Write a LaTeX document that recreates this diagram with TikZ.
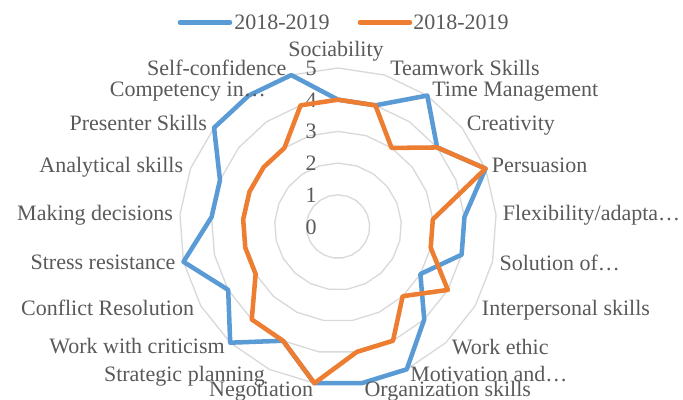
\documentclass[tikz,border=0pt]{standalone}
\usepackage{fontspec}
\setmainfont{Liberation Serif}
\definecolor{sblue}{HTML}{5B9BD5}
\definecolor{sorange}{HTML}{ED7D31}
\definecolor{gridc}{HTML}{D9D9D9}
\definecolor{txt}{HTML}{595959}
\begin{document}
\begin{tikzpicture}[x=0.75pt,y=-0.75pt,
  gridline/.style={draw=gridc,line width=1pt},
  serA/.style={draw=sblue,line width=3.4pt,line join=round},
  serB/.style={draw=sorange,line width=3.4pt,line join=round},
  lab/.style={text=txt,font=\fontsize{16.5}{18}\selectfont,inner sep=0pt},
  ]
\useasboundingbox (0,0) rectangle (683,400);
\def\cx{338}\def\cy{226.5}\def\u{31.7}
% grid rings
\foreach \r in {1,...,5}{
  \draw[gridline] ({\cx},{\cy-\u*\r}) \foreach \k in {1,...,20}{ -- ({\cx+\u*\r*cos(\k*360/21-90)},{\cy+\u*\r*sin(\k*360/21-90)}) } -- cycle;
}
% axis values
\foreach \r in {0,...,5}{
  \node[lab,anchor=base east] (v\r) at (317,{\cy-\u*\r+7.5}) {\r};
}
% series
\foreach \v [count=\k from 0] in {4,4,5,4,5,4,4,3,4,5,5,5,4,5,4,5,4,4,5,5,5}
  \coordinate (a\k) at ({\cx+\u*\v*cos(\k*360/21-90)},{\cy+\u*\v*sin(\k*360/21-90)});
\foreach \v [count=\k from 0] in {4,4,3,4,5,3,3,4,3,4,4,5,4,4,3,3,3,3,3,3,4}
  \coordinate (b\k) at ({\cx+\u*\v*cos(\k*360/21-90)},{\cy+\u*\v*sin(\k*360/21-90)});
\draw[serA] (a0) \foreach \k in {1,...,20}{ -- (a\k) } -- cycle;
\draw[serB] (b0) \foreach \k in {1,...,20}{ -- (b\k) } -- cycle;
% category labels
\node[lab,anchor=base] (c0) at (336,56) {Sociability};
\node[lab,anchor=base west] (c1) at (390,75) {Teamwork Skills};
\node[lab,anchor=base west] (c2) at (432,96) {Time Management};
\node[lab,anchor=base west] (c3) at (466.7,130.7) {Creativity};
\node[lab,anchor=base west] (c4) at (491.7,172.7) {Persuasion};
\node[lab,anchor=base west] (c5) at (502.7,220.7) {Flexibility/adapta…};
\node[lab,anchor=base west] (c6) at (499.3,270) {Solution of…};
\node[lab,anchor=base west] (c7) at (481.7,315.7) {Interpersonal skills};
\node[lab,anchor=base west] (c8) at (451.7,354) {Work ethic};
\node[lab,anchor=base west] (c9) at (410,381) {Motivation and…};
\node[lab,anchor=base west] (c10) at (364.3,396) {Organization skills};
\node[lab,anchor=base east] (c11) at (313.3,396) {Negotiation};
\node[lab,anchor=base east] (c12) at (265,381) {Strategic planning};
\node[lab,anchor=base east] (c13) at (225,353.3) {Work with criticism};
\node[lab,anchor=base east] (c14) at (194.3,315) {Conflict Resolution};
\node[lab,anchor=base east] (c15) at (175.7,269) {Stress resistance};
\node[lab,anchor=base east] (c16) at (173.3,220.7) {Making decisions};
\node[lab,anchor=base east] (c17) at (183.3,172.7) {Analytical skills};
\node[lab,anchor=base east] (c18) at (207.3,130.7) {Presenter Skills};
\node[lab,anchor=base east] (c19) at (266,96.7) {Competency in…};
\node[lab,anchor=base east] (c20) at (286.7,75) {Self-confidence};
% legend
\coordinate (la1) at (180,22.5);
\coordinate (la2) at (230,22.5);
\coordinate (lb1) at (360,22.5);
\coordinate (lb2) at (410,22.5);
\draw[serA,line cap=round] (la1) -- (la2);
\draw[serB,line cap=round] (lb1) -- (lb2);
\node[lab,anchor=base west] (ta) at (234,29) {2018-2019};
\node[lab,anchor=base west] (tb) at (413,29) {2018-2019};
\end{tikzpicture}
\end{document}
